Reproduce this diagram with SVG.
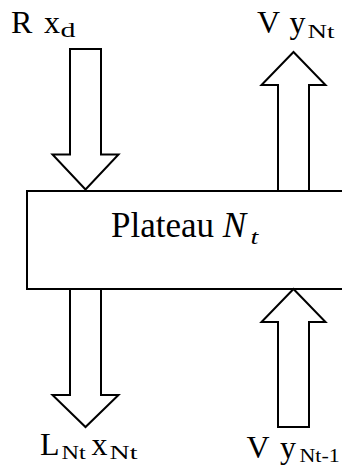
<svg xmlns="http://www.w3.org/2000/svg" width="342" height="470" viewBox="0 0 342 470">
<style>
.shape{fill:#fff;stroke:#000;stroke-width:2;stroke-linejoin:miter}
.t{font-family:"Liberation Serif","Times New Roman",serif;fill:#000}
.main{font-size:32px}
.sub{font-size:18px}
</style>
<rect width="342" height="470" fill="#fff"/>
<g id="plateau">
<rect class="shape" x="27" y="191" width="330" height="98"/>
<text class="t" x="111" y="236.5" font-size="35">Plateau <tspan font-style="italic">N</tspan></text>
<text class="t" font-size="20" font-style="italic" transform="translate(250.5,244) scale(1.4,1)">t</text>
</g>
<g id="connectors">
<g id="feed-R">
<polygon class="shape" points="70,49 101,49 101,154.5 118.5,154.5 85.5,189.5 52.5,154.5 70,154.5"/>
<text class="t main" x="11" y="33">R</text>
<text class="t main" x="44" y="33">x</text>
<text class="t" font-size="20" transform="translate(60.5,37) scale(1.5,1)">d</text>
</g>
<g id="vapour-out">
<polygon class="shape" points="278,191 278,85 261.5,85 293.5,52 325.5,85 309,85 309,191"/>
<text class="t main" x="257" y="33">V</text>
<text class="t main" x="289.5" y="33">y</text>
<text class="t sub" transform="translate(307.5,37.5) scale(1.5,1)">Nt</text>
</g>
<g id="liquid-out">
<polygon class="shape" points="70,289 101,289 101,395 118.5,395 85.5,427 52.5,395 70,395"/>
<text class="t main" x="40" y="455">L</text>
<text class="t sub" transform="translate(61.5,459) scale(1.35,1)">Nt</text>
<text class="t main" x="91.5" y="455">x</text>
<text class="t sub" transform="translate(109.5,459) scale(1.55,1)">Nt</text>
</g>
<g id="vapour-in">
<polygon class="shape" points="278,427 278,322 261.5,322 293.5,289 325.5,322 309,322 309,427"/>
<text class="t main" x="246.5" y="458">V</text>
<text class="t main" x="280" y="458">y</text>
<text class="t sub" transform="translate(299.5,462) scale(1.22,1)">Nt-1</text>
</g>
</g>
</svg>
